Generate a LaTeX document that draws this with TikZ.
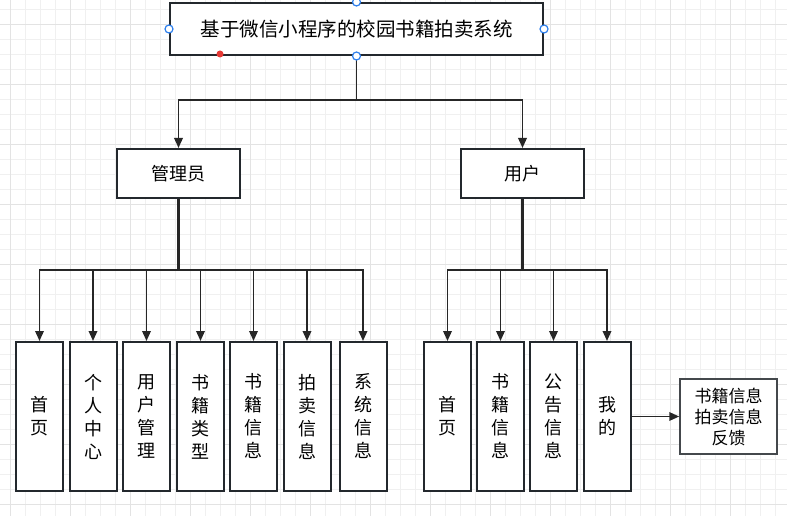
\documentclass[tikz,border=0pt]{standalone}
\usepackage{fontspec}
\setmainfont{Noto Sans CJK SC}
\usetikzlibrary{arrows.meta}
\definecolor{boxline}{HTML}{23282D}
\definecolor{linkcol}{HTML}{262626}
\definecolor{gridminor}{HTML}{F0F0F0}
\definecolor{gridmajor}{HTML}{E3E3E3}
\definecolor{handle}{HTML}{2F80ED}
\definecolor{hotspot}{HTML}{E53935}

\begin{document}
\begin{tikzpicture}[x=1pt, y=-1pt,
    box/.style={draw=boxline, line width=2pt, fill=white, inner sep=0pt,
                font=\fontsize{18}{22}\selectfont},
    leaf/.style={box, minimum width=47pt, minimum height=149pt,
                 align=center, font=\fontsize{18}{23}\selectfont},
    link/.style={draw=linkcol, line width=1.8pt},
    arr/.style={link, -{Triangle[length=10pt, width=8.5pt]}},
    knob/.style={draw=handle, fill=white, line width=1.2pt}
  ]
  \useasboundingbox (0,0) rectangle (787,516);

  % background grid
  \foreach \gx in {10.5,25.5,...,787} \draw[gridminor, line width=1pt] (\gx,0) -- (\gx,516);
  \foreach \gy in {9.5,24.5,...,516} \draw[gridminor, line width=1pt] (0,\gy) -- (787,\gy);
  \foreach \gx in {10.5,70.5,...,787} \draw[gridmajor, line width=1pt] (\gx,0) -- (\gx,516);
  \foreach \gy in {24.5,84.5,...,516} \draw[gridmajor, line width=1pt] (0,\gy) -- (787,\gy);

  \node[box, minimum width=373pt, minimum height=52pt,
        font=\fontsize{19.5}{22}\selectfont] (title) at (356.5,29) {基于微信小程序的校园书籍拍卖系统};

  \node[box, minimum width=123pt, minimum height=49pt] (admin) at (178.5,173.5) {管理员};
  \node[box, minimum width=123pt, minimum height=49pt] (user) at (522.5,173.5) {用户};

  \node[leaf] (a1) at (39.5,416.5) {首\\页};
  \node[leaf] (a2) at (93,416.5) {个\\人\\中\\心};
  \node[leaf] (a3) at (146.5,416.5) {用\\户\\管\\理};
  \node[leaf] (a4) at (200.5,416.5) {书\\籍\\类\\型};
  \node[leaf] (a5) at (253.5,416.5) {书\\籍\\信\\息};
  \node[leaf] (a6) at (307,416.5) {拍\\卖\\信\\息};
  \node[leaf] (a7) at (363,416.5) {系\\统\\信\\息};

  \node[leaf] (u1) at (447.5,416.5) {首\\页};
  \node[leaf] (u2) at (500.5,416.5) {书\\籍\\信\\息};
  \node[leaf] (u3) at (553.5,416.5) {公\\告\\信\\息};
  \node[leaf] (u4) at (607,416.5) {我\\的};

  \node[box, draw=boxline!85, line width=1.5pt, minimum width=97pt, minimum height=75pt,
        align=center, font=\fontsize{17}{21}\selectfont] (detail) at (728.5,416.5) {书籍信息\\拍卖信息\\反馈};

  % connectors
  \coordinate (tsplit) at (356.5,100);
  \coordinate (asplit) at (178.5,270);
  \coordinate (usplit) at (522.5,270);

  \draw[link] (title.south) -- (tsplit);
  \draw[arr] (tsplit) -| (admin.north);
  \draw[arr] (tsplit) -| (user.north);

  \draw[link, line width=2.4pt] (admin.south) -- (asplit);
  \foreach \i in {1,...,7} \draw[arr] (asplit) -| (a\i.north);

  \draw[link, line width=2.4pt] (user.south) -- (usplit);
  \foreach \i in {1,...,4} \draw[arr] (usplit) -| (u\i.north);

  \draw[arr] (u4.east) -- (detail.west);

  % selection handles on the title box
  \foreach \a in {north,south,east,west} \draw[knob] (title.\a) circle (4pt);
  \fill[hotspot] (220,54) circle (3.5pt);
\end{tikzpicture}
\end{document}
